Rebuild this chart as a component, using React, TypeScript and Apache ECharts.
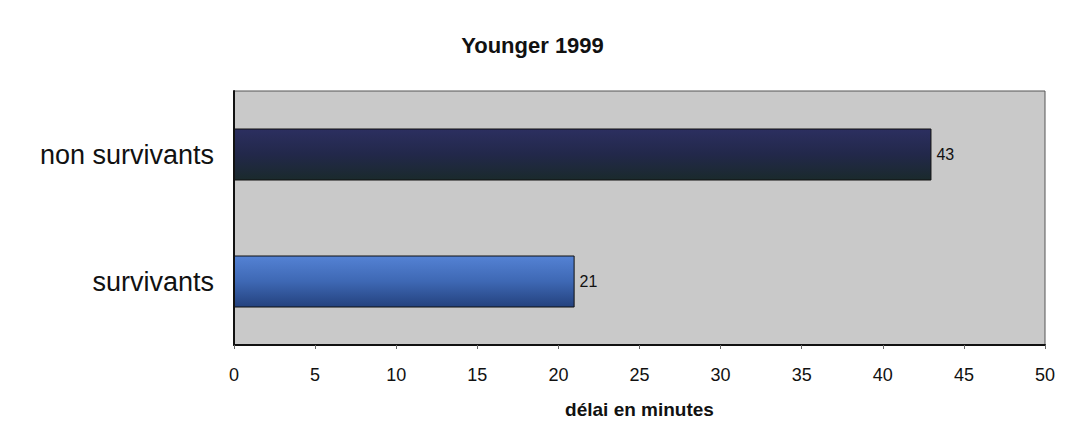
import React, { useEffect, useRef } from "react";
import * as echarts from "echarts";

const categories = ["non survivants", "survivants"];
const values = [43, 21];
const xTicks = [0, 50];
const titleText = "Younger 1999";
const xAxisName = "délai en minutes";

export default function App() {
  const ref = useRef<HTMLDivElement>(null);
  useEffect(() => {
    const chart = echarts.init(ref.current!, null, { renderer: "svg" });
    const grads = [
      new echarts.graphic.LinearGradient(0, 0, 0, 1, [
        { offset: 0, color: "#2c2f60" },
        { offset: 0.5, color: "#22284a" },
        { offset: 1, color: "#1a2a2c" },
      ]),
      new echarts.graphic.LinearGradient(0, 0, 0, 1, [
        { offset: 0, color: "#5482d4" },
        { offset: 0.5, color: "#3e68b4" },
        { offset: 1, color: "#24427e" },
      ]),
    ];
    chart.setOption({
      animation: false,
      backgroundColor: "#ffffff",
      title: {
        text: titleText,
        left: "center",
        top: 29,
        textStyle: { fontFamily: "Liberation Sans", fontSize: 22, fontWeight: "bold", color: "#111" },
      },
      grid: {
        left: 234,
        right: 20,
        top: 91,
        bottom: 91,
        show: true,
        backgroundColor: "#c9c9c9",
        borderColor: "#555",
        borderWidth: 1,
      },
      xAxis: {
        type: "value",
        min: xTicks[0],
        max: xTicks[1],
        interval: 5,
        name: xAxisName,
        nameLocation: "middle",
        nameGap: 55,
        nameTextStyle: { fontFamily: "Liberation Sans", fontSize: 19, fontWeight: "bold", color: "#111" },
        axisLine: { show: true, lineStyle: { color: "#111", width: 2 } },
        axisTick: { show: true, length: 4, inside: false, lineStyle: { color: "#666" } },
        axisLabel: { fontFamily: "Liberation Sans", fontSize: 18, color: "#111", margin: 21 },
        splitLine: { show: false },
      },
      yAxis: {
        type: "category",
        data: categories,
        inverse: true,
        axisLine: { show: true, lineStyle: { color: "#111", width: 2 } },
        axisTick: { show: false },
        axisLabel: { fontFamily: "Liberation Sans", fontSize: 27, color: "#111", margin: 20 },
      },
      series: [
        {
          type: "bar",
          data: values.map((v, i) => ({
            value: v,
            itemStyle: { color: grads[i], borderColor: "#111", borderWidth: 1 },
          })),
          barWidth: 52,
          label: {
            show: true,
            position: "right",
            distance: 5,
            fontFamily: "Liberation Sans",
            fontSize: 16,
            color: "#111",
          },
        },
      ],
    });
    return () => chart.dispose();
  }, []);
  return (
    <div
      ref={ref}
      style={{ position: "absolute", left: 0, top: 0, width: 1065, height: 436 }}
    />
  );
}
